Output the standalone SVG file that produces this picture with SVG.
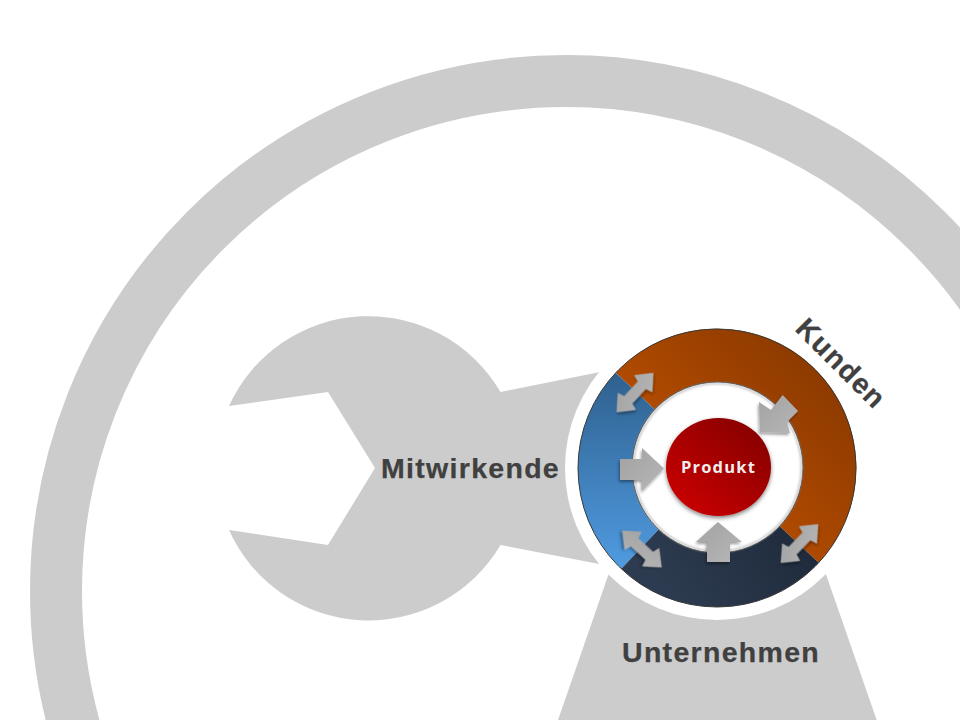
<svg xmlns="http://www.w3.org/2000/svg" width="960" height="720" viewBox="0 0 960 720">
<style>
.label{font-family:"Liberation Sans",Arial,sans-serif;font-weight:700;font-size:28.5px;letter-spacing:1.3px;fill:#404040;stroke:#404040;stroke-width:.25}
.prod{font-family:"Open Sans",sans-serif;font-weight:700;font-size:16.5px;letter-spacing:1.2px;fill:#eeeeee}
.bg{fill:#cccccc}
.arrow{fill:url(#gGray);filter:url(#shadow)}
</style>
<defs>
<linearGradient id="gGray" x1="0" y1="0" x2="1" y2="1"><stop offset="0" stop-color="#a2a2a2"/><stop offset="1" stop-color="#b6b6b6"/></linearGradient>
<linearGradient id="gOrange" gradientUnits="userSpaceOnUse" x1="715" y1="470" x2="820" y2="365"><stop offset="0" stop-color="#b04a00"/><stop offset="1" stop-color="#8c3a00"/></linearGradient>
<linearGradient id="gBlue" gradientUnits="userSpaceOnUse" x1="0" y1="375" x2="0" y2="565"><stop offset="0" stop-color="#2f618f"/><stop offset="1" stop-color="#4f9ae0"/></linearGradient>
<linearGradient id="gNavy" gradientUnits="userSpaceOnUse" x1="680" y1="610" x2="800" y2="530"><stop offset="0" stop-color="#2d3b50"/><stop offset="1" stop-color="#1f2b3c"/></linearGradient>
<linearGradient id="gRed" gradientUnits="userSpaceOnUse" x1="690" y1="505" x2="755" y2="425"><stop offset="0" stop-color="#c40000"/><stop offset="1" stop-color="#880000"/></linearGradient>
<filter id="shadow" x="-30%" y="-30%" width="160%" height="160%"><feDropShadow dx="-1" dy="2" stdDeviation="1.4" flood-color="#000" flood-opacity=".4"/></filter>
<filter id="soft" x="-20%" y="-20%" width="140%" height="140%"><feDropShadow dx="0" dy="2" stdDeviation="2" flood-color="#000" flood-opacity=".5"/></filter>
<filter id="blur" x="-10%" y="-10%" width="120%" height="120%"><feGaussianBlur stdDeviation="1"/></filter>
<path id="dbl" d="M-27 0L-12 -12.5L-10 -5.5L10 -5.5L12 -12.5L27 0L12 12.5L10 5.5L-10 5.5L-12 12.5Z"/>
</defs>
<rect width="960" height="720" fill="#ffffff"/>
<g id="backdrop">
<circle cx="566" cy="591" r="510" fill="none" stroke="#cccccc" stroke-width="52"/>
<path class="bg" d="M229 406L328 392L375 468L328 545L229 530A153 153 0 0 0 500.5 545L620 568L620 368L500.5 392A153 153 0 0 0 229 406Z"/>
<path class="bg" d="M613.5 560L558 720L876.7 720L821 560Z"/>
<circle cx="717" cy="468" r="152" fill="#ffffff"/>
</g>
<g id="ring-kunden"><path fill="url(#gOrange)" d="M717 468L615.7 372.7A139 139 0 1 1 818.8 562.7Z"/></g>
<g id="ring-mitwirkende"><path fill="url(#gBlue)" d="M717 468L621.3 568.8A139 139 0 0 1 615.7 372.7Z"/></g>
<g id="ring-unternehmen"><path fill="url(#gNavy)" d="M717 468L818.8 562.7A139 139 0 0 1 621.3 568.8Z"/></g>
<circle cx="717" cy="468" r="139" fill="none" stroke="#3a3a3a" stroke-width="1"/>
<g id="inner">
<circle cx="717.5" cy="467.5" r="85.5" fill="#ffffff" stroke="#3f3f3f" stroke-width="1"/>
<circle cx="717.5" cy="467.5" r="84" fill="none" stroke="#b5b5b5" stroke-width="1.6" filter="url(#blur)"/>
</g>
<g id="produkt">
<ellipse cx="718.5" cy="467" rx="52.5" ry="49" fill="url(#gRed)" filter="url(#soft)"/>
<text class="prod" x="718.5" y="473" text-anchor="middle">Produkt</text>
</g>
<g id="connectors">
<path class="arrow" d="M620 459L642 459L642 448L664 468.5L642 491L642 480L620 480Z"/>
<path class="arrow" d="M707 562L707 542L696 542L718 522L742 542L730 542L730 562Z"/>
<path class="arrow" d="M782.7 395L798 411L787 422L790 433L760 432L759 402L771 410Z"/>
<use href="#dbl" class="arrow" transform="translate(635 392.5) rotate(-47)"/>
<use href="#dbl" class="arrow" transform="translate(799.5 543.5) rotate(-46)"/>
<use href="#dbl" class="arrow" transform="translate(642 549) rotate(43)"/>
</g>
<g id="labels">
<text class="label" x="381" y="478">Mitwirkende</text>
<text class="label" x="622" y="662">Unternehmen</text>
<text class="label" transform="translate(794 330) rotate(45)">Kunden</text>
</g>
</svg>
